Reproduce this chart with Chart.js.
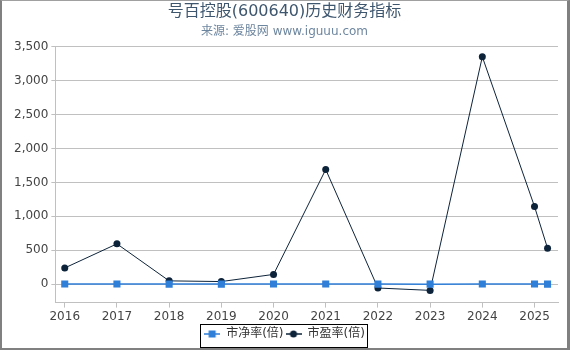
<!DOCTYPE html>
<html>
<head>
<meta charset="utf-8">
<script src="https://cdn.jsdelivr.net/npm/chart.js@4"></script>
<style>
	html, body { margin: 0; padding: 0; background: #fff; }
	#caja { position: relative; width: 570px; height: 350px; }
	#grafico { position: absolute; left: 0; top: 0; }
	#marco {
		position: absolute; left: 0; top: 0; width: 570px; height: 350px;
		box-sizing: border-box; pointer-events: none;
		border-top: 1px solid #a0a0a0; border-left: 2px solid #808080;
		border-right: 3px solid #808080; border-bottom: 2px solid #808080;
	}
</style>
</head>
<body>
<div id="caja">
	<canvas id="grafico" width="570" height="350"></canvas>
	<div id="marco"></div>
</div>
<script>
// Datos
const anios = [2016, 2017, 2018, 2019, 2020, 2021, 2022, 2023, 2024, 2025, 2025.25];
const marcasX = [2016, 2017, 2018, 2019, 2020, 2021, 2022, 2023, 2024, 2025];
const marcasY = [0, 500, 1000, 1500, 2000, 2500, 3000, 3500];
const pb = [3.2, 3.6, 2.4, 2.2, 2.6, 3.9, 2.3, 2.0, 3.1, 2.7, 2.5];
const pe = [240, 595, 50, 40, 145, 1690, -55, -90, 3350, 1145, 530];

const fuente = "'DejaVu Sans', 'Noto Sans CJK SC', sans-serif";
const azul = "#2f7ed8";
const oscuro = "#0d233a";

// Icono de leyenda: línea con el marcador encima
const icono = (color, cuadrado) => {
	const c = document.createElement("canvas");
	c.width = 16;
	c.height = 10;
	const g = c.getContext("2d");
	g.strokeStyle = color;
	g.lineWidth = 1.5;
	g.beginPath();
	g.moveTo(0, 5);
	g.lineTo(16, 5);
	g.stroke();
	g.fillStyle = color;
	if (cuadrado) {
		g.fillRect(4.5, 1.5, 7, 7);
	} else {
		g.beginPath();
		g.arc(8, 5, 3.5, 0, Math.PI * 2);
		g.fill();
	}
	return c;
};

// Recuadro alrededor de la leyenda
const marcoLeyenda = {
	id: "marcoLeyenda",
	afterDraw(chart) {
		const cajas = chart.legend.legendHitBoxes;
		if (!cajas || !cajas.length) return;
		const izq = Math.min(...cajas.map((b) => b.left));
		const der = Math.max(...cajas.map((b) => b.left + b.width));
		const arr = Math.min(...cajas.map((b) => b.top));
		const aba = Math.max(...cajas.map((b) => b.top + b.height));
		const ctx = chart.ctx;
		ctx.save();
		ctx.strokeStyle = "#000";
		ctx.lineWidth = 1;
		ctx.strokeRect(Math.round(izq - 4) + 0.5, Math.round(arr - 4) + 0.5, Math.round(der - izq + 6), Math.round(aba - arr + 11));
		ctx.restore();
	},
};

const ctx = document.getElementById("grafico");

const graph = new Chart(ctx, {
	type: "line",
	data: {
		datasets: [
			{
				label: "市净率(倍)",
				data: anios.map((x, i) => ({ x: x, y: pb[i] })),
				borderColor: azul,
				backgroundColor: azul,
				borderWidth: 1.5,
				pointStyle: "rect",
				pointRadius: 5,
				pointBorderWidth: 0,
			},
			{
				label: "市盈率(倍)",
				data: anios.map((x, i) => ({ x: x, y: pe[i] })),
				borderColor: oscuro,
				backgroundColor: oscuro,
				borderWidth: 1,
				pointStyle: "circle",
				pointRadius: 3.5,
				pointBorderWidth: 0,
			},
		],
	},
	options: {
		responsive: false,
		animation: false,
		layout: {
			padding: { left: 11, right: 12, top: 0, bottom: 0 },
		},
		plugins: {
			title: {
				display: true,
				text: "号百控股(600640)历史财务指标",
				color: "#3e576f",
				font: { family: fuente, size: 16, weight: "normal" },
				padding: { top: 2, bottom: 0 },
			},
			subtitle: {
				display: true,
				text: "来源: 爱股网 www.iguuu.com",
				color: "#6d869f",
				font: { family: fuente, size: 12, weight: "normal" },
				padding: { top: 3, bottom: 8 },
			},
			legend: {
				position: "bottom",
				labels: {
					usePointStyle: true,
					pointStyleWidth: 16,
					padding: 2,
					color: "#333",
					font: { family: fuente, size: 12 },
					generateLabels: (chart) =>
						chart.data.datasets.map((ds, i) => ({
							text: ds.label,
							pointStyle: icono(ds.borderColor, i === 0),
							fillStyle: ds.borderColor,
							strokeStyle: ds.borderColor,
							lineWidth: 0,
							fontColor: "#333",
							datasetIndex: i,
						})),
				},
			},
			tooltip: { enabled: false },
		},
		scales: {
			x: {
				type: "linear",
				min: 2015.82,
				max: 2025.45,
				afterBuildTicks: (s) => {
					s.ticks = marcasX.map((v) => ({ value: v }));
				},
				grid: { drawOnChartArea: false, drawTicks: true, tickLength: 5, color: "#c0c0c0" },
				border: { display: true, color: "#c0c0c0" },
				ticks: {
					color: "#444",
					padding: 2,
					maxRotation: 0,
					font: { family: fuente, size: 12 },
					callback: (v) => String(v),
				},
			},
			y: {
				type: "linear",
				min: -270,
				max: 3500,
				afterBuildTicks: (s) => {
					s.ticks = marcasY.map((v) => ({ value: v }));
				},
				grid: { color: "#c0c0c0", tickLength: 4 },
				border: { display: true, color: "#c0c0c0" },
				ticks: {
					color: "#444",
					padding: 3,
					font: { family: fuente, size: 12 },
					callback: (v) => v.toLocaleString("en-US"),
				},
			},
		},
	},
	plugins: [marcoLeyenda],
});
</script>
</body>
</html>
